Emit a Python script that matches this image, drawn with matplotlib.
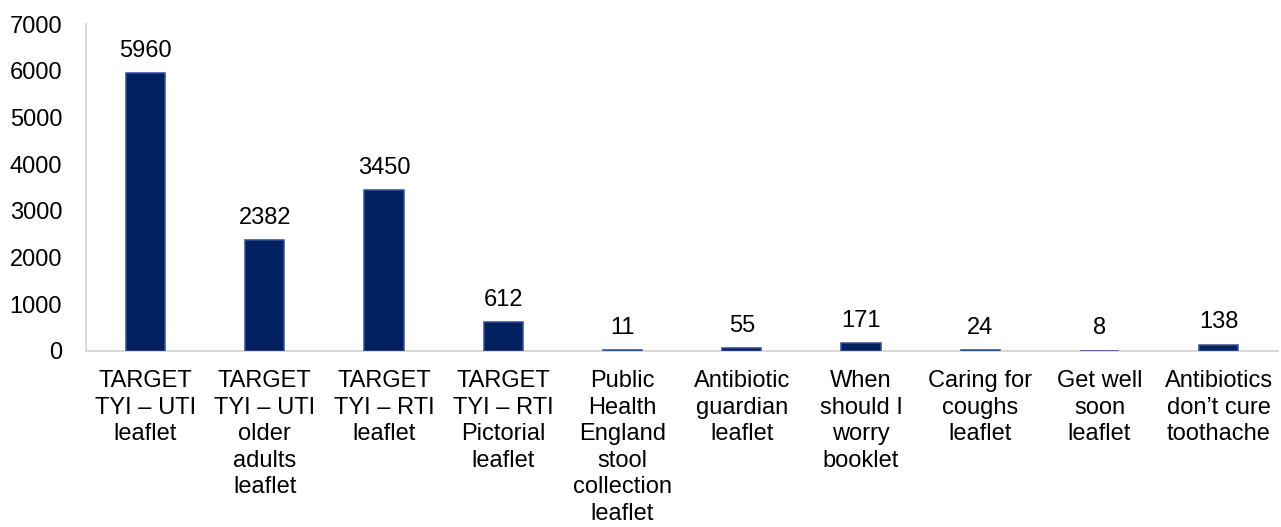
import matplotlib.pyplot as plt
import numpy as np

plt.rcParams['font.family'] = ['Liberation Sans', 'DejaVu Sans']

# leaflet categories (wrapped as in the original)
categories = [
    "TARGET\nTYI – UTI\nleaflet",
    "TARGET\nTYI – UTI\nolder\nadults\nleaflet",
    "TARGET\nTYI – RTI\nleaflet",
    "TARGET\nTYI – RTI\nPictorial\nleaflet",
    "Public\nHealth\nEngland\nstool\ncollection\nleaflet",
    "Antibiotic\nguardian\nleaflet",
    "When\nshould I\nworry\nbooklet",
    "Caring for\ncoughs\nleaflet",
    "Get well\nsoon\nleaflet",
    "Antibiotics\ndon’t cure\ntoothache",
]
values = [5960, 2382, 3450, 612, 11, 55, 171, 24, 8, 138]
yticks = [0, 1000, 2000, 3000, 4000, 5000, 6000, 7000]

fig = plt.figure(figsize=(12.81, 5.27), dpi=100)
ax = fig.add_axes([0.067, 0.334, 0.931, 0.620])

x = np.arange(len(values))
bars = ax.bar(x, values, width=0.33, color='#002060',
              edgecolor='#2f4f8f', linewidth=1.1, zorder=3)

for xi, v in zip(x, values):
    ax.annotate(str(v), (xi, v), xytext=(0, 8), textcoords='offset points',
                ha='center', va='bottom', fontsize=17, color='black')

ax.set_xlim(-0.5, len(values) - 0.5)
ax.set_ylim(0, 7000)
ax.set_yticks(yticks)
ax.set_xticks(x)
ax.set_xticklabels(categories, fontsize=17, linespacing=1.26)
ax.tick_params(axis='y', labelsize=17, length=0, pad=17)
ax.tick_params(axis='x', length=0, pad=14)

for s in ['top', 'right']:
    ax.spines[s].set_visible(False)
for s in ['left', 'bottom']:
    ax.spines[s].set_color('#d9d9d9')
    ax.spines[s].set_linewidth(1.5)

fig.savefig('out.png', dpi=100)
